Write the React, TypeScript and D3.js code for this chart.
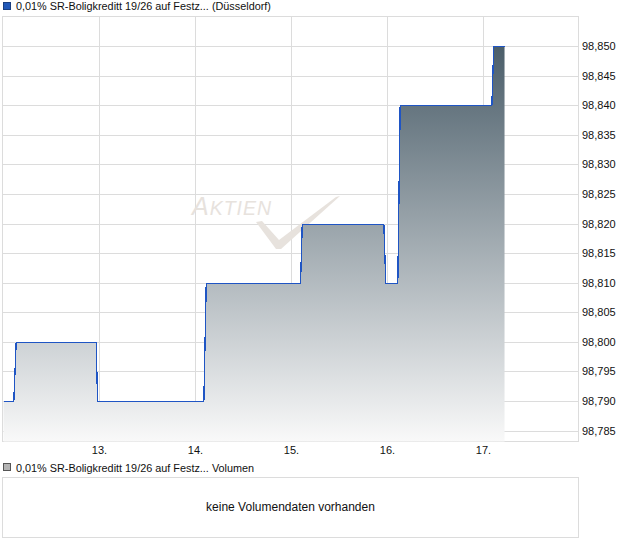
import React from "react";
import * as d3 from "d3";

// Intraday quotes: trading session index (0 = 12.), time of day, price
const sessionIdx: number[] = [0, 0, 0, 0, 0, 2, 2, 3, 3, 3, 3, 4, 4, 5, 5, 5];
const timeOfDay: string[] = [
  "08:00", "09:30", "09:51", "21:31", "21:43",
  "09:13", "09:34",
  "09:19", "09:34", "21:28", "21:45",
  "09:30", "09:51",
  "09:13", "09:30", "11:04",
];
const price: number[] = [
  98.79, 98.79, 98.8, 98.8, 98.79,
  98.79, 98.81,
  98.81, 98.82, 98.82, 98.81,
  98.81, 98.84,
  98.84, 98.85, 98.85,
];

const dayLabels: string[] = ["12.", "13.", "14.", "15.", "16.", "17."];
const yTicks: number[] = [
  98.785, 98.79, 98.795, 98.8, 98.805, 98.81, 98.815, 98.82, 98.825, 98.83,
  98.835, 98.84, 98.845, 98.85,
];

const titleText = "0,01% SR-Boligkreditt 19/26 auf Festz... (Düsseldorf)";
const volumeTitle = "0,01% SR-Boligkreditt 19/26 auf Festz... Volumen";
const noVolumeText = "keine Volumendaten vorhanden";

const OPEN_H = 8;
const SESSION_H = 14;

const W = 620;
const H = 546;
const left = 2.5;
const right = 578.5;
const top = 16.5;
const bottom = 441.5;

const FONT = "'Liberation Sans', Arial, sans-serif";

function toSessionPos(s: number, t: string): number {
  const [hh, mm] = t.split(":").map(Number);
  return s + (hh + mm / 60 - OPEN_H) / SESSION_H;
}

export default function App() {
  const x = d3.scaleLinear().domain([0, 6]).range([3.5, 579.5]);
  const y = d3.scaleLinear().domain([98.785, 98.85]).range([431.1, 46.5]);

  const points = price.map((p, i) => ({
    pos: toSessionPos(sessionIdx[i], timeOfDay[i]),
    v: p,
  }));

  const crisp = (v: number) => Math.floor(v) + 0.5;

  const line = d3
    .line<{ pos: number; v: number }>()
    .x((d) => x(d.pos))
    .y((d) => crisp(y(d.v)));
  const area = d3
    .area<{ pos: number; v: number }>()
    .x((d) => x(d.pos))
    .y0(bottom)
    .y1((d) => crisp(y(d.v)));

  return (
    <svg
      width={W}
      height={H}
      style={{ position: "fixed", left: 0, top: 0, background: "#fff" }}
      fontFamily={FONT}
    >
      <defs>
        <linearGradient
          id="priceFill"
          gradientUnits="userSpaceOnUse"
          x1={0}
          x2={0}
          y1={y(98.85)}
          y2={bottom}
        >
          <stop offset="0%" stopColor="#4b5e6a" />
          <stop offset="100%" stopColor="#f9f9f9" />
        </linearGradient>
      </defs>

      {/* title */}
      <rect x={3.5} y={2.5} width={7} height={7} fill="#2158b8" stroke="#1a3f80" />
      <text x={16} y={10} fontSize={10.85} fill="#111">
        {titleText}
      </text>

      {/* grid */}
      {yTicks.map((t) => (
        <line
          key={"h" + t}
          x1={left}
          x2={right}
          y1={crisp(y(t))}
          y2={crisp(y(t))}
          stroke="#dcdcdc"
        />
      ))}
      {dayLabels.slice(1).map((d, i) => (
        <line
          key={"v" + d}
          x1={crisp(x(i + 1))}
          x2={crisp(x(i + 1))}
          y1={top}
          y2={bottom}
          stroke="#dcdcdc"
        />
      ))}
      <rect
        x={left}
        y={top}
        width={right - left}
        height={bottom - top}
        fill="none"
        stroke="#dcdcdc"
      />

      {/* watermark */}
      <g fill="#e7e2dd" fontStyle="italic" fontFamily={FONT}>
        <text x={192} y={215} letterSpacing={1}>
          <tspan fontSize={25}>A</tspan>
          <tspan fontSize={19.5}>KTIEN</tspan>
        </text>
        <path d="M256,222 L262,221 L279,240 L336,197 L340,196 L281,249 L276,249 Z" />
      </g>

      {/* price area and line */}
      <path d={area(points) ?? ""} fill="url(#priceFill)" />
      <path
        d={line(points) ?? ""}
        fill="none"
        stroke="#1f55c4"
        strokeWidth={1.3}
        shapeRendering="crispEdges"
      />

      {/* y-axis labels */}
      {yTicks.map((t) => (
        <text
          key={"yl" + t}
          x={582}
          y={crisp(y(t)) + 3.5}
          fontSize={11}
          fill="#111"
        >
          {t.toFixed(3).replace(".", ",")}
        </text>
      ))}

      {/* x-axis labels */}
      {dayLabels.slice(1).map((d, i) => (
        <text
          key={"xl" + d}
          x={crisp(x(i + 1))}
          y={454}
          fontSize={11}
          textAnchor="middle"
          fill="#111"
        >
          {d}
        </text>
      ))}

      {/* volume panel */}
      <rect x={3.5} y={463.5} width={7} height={7} fill="#b4b4b4" stroke="#555" />
      <text x={16} y={472} fontSize={10.85} fill="#111">
        {volumeTitle}
      </text>
      <rect
        x={left}
        y={477.5}
        width={right - left}
        height={60}
        fill="#fff"
        stroke="#dcdcdc"
      />
      <text x={290.5} y={511} fontSize={12} textAnchor="middle" fill="#111">
        {noVolumeText}
      </text>
    </svg>
  );
}
